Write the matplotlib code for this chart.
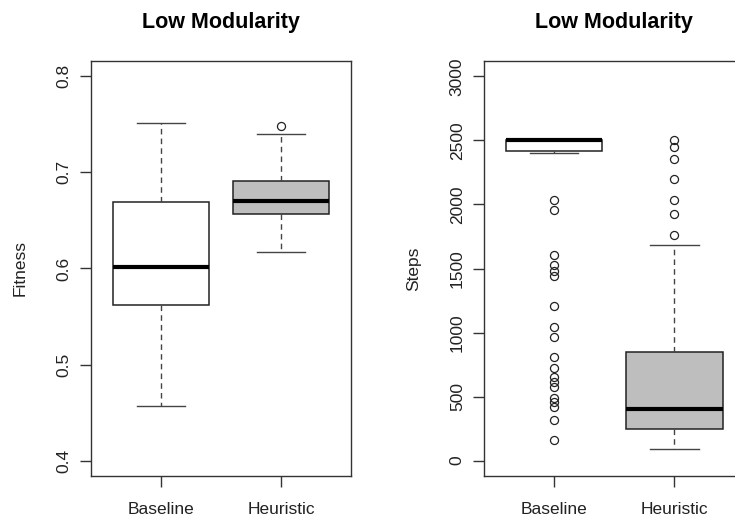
import matplotlib
matplotlib.use("Agg")
from matplotlib import pyplot as plt

plt.rcParams['font.family'] = ['Liberation Sans', 'DejaVu Sans']

groups = ["Baseline", "Heuristic"]
fills = ["white", "#BEBEBE"]

# fitness summary (whislo, q1, med, q3, whishi)
fit_baseline = [0.457, 0.5625, 0.6015, 0.669, 0.7515]
fit_heuristic = [0.6175, 0.6565, 0.6705, 0.6915, 0.7405]
fit_baseline_out = []
fit_heuristic_out = [0.748]

# steps summary (whislo, q1, med, q3, whishi)
steps_baseline = [2400, 2420, 2500, 2500, 2500]
steps_heuristic = [88, 247, 400, 845, 1684]
steps_baseline_out = [2037, 1959, 1603, 1525, 1478, 1439, 1207, 1041, 963, 807,
                      723, 650, 615, 575, 490, 455, 420, 320, 164]
steps_heuristic_out = [1759, 1923, 2037, 2201, 2357, 2449, 2500]

fit_ticks = [0.4, 0.5, 0.6, 0.7, 0.8]
steps_ticks = [0, 500, 1000, 1500, 2000, 2500, 3000]


def make_stats(summary, fliers, label):
    lo, q1, med, q3, hi = summary
    return dict(whislo=lo, q1=q1, med=med, q3=q3, whishi=hi, fliers=fliers, label=label)


def draw_panel(ax, stats, ylab, ticks, ylim):
    b = ax.bxp(stats, positions=[1, 2], widths=0.8, patch_artist=True,
               showfliers=True,
               boxprops=dict(edgecolor="#222222", linewidth=1.1),
               medianprops=dict(color="black", linewidth=3, solid_capstyle="butt"),
               whiskerprops=dict(color="#444444", linewidth=1, linestyle=(0, (4, 3))),
               capprops=dict(color="#444444", linewidth=1),
               flierprops=dict(marker="o", markersize=5.8, markerfacecolor="none",
                               markeredgecolor="#222222", markeredgewidth=0.9))
    for patch, c in zip(b["boxes"], fills):
        patch.set_facecolor(c)
    for cap in b["caps"]:
        x = cap.get_xdata()
        mid = (x[0] + x[1]) / 2
        cap.set_xdata([mid - 0.2, mid + 0.2])
    ax.set_xlim(0.42, 2.58)
    ax.set_ylim(*ylim)
    ax.set_yticks(ticks)
    ax.set_yticklabels([str(t) for t in ticks], rotation=90, va="center")
    ax.set_xticks([1, 2])
    ax.set_xticklabels(groups)
    ax.tick_params(axis="both", length=8, width=1, color="#333333", labelsize=12.5,
                   labelcolor="#222222")
    ax.tick_params(axis="y", pad=6)
    ax.tick_params(axis="x", pad=11)
    for s in ax.spines.values():
        s.set_color("#333333")
        s.set_linewidth(1)
    ax.set_ylabel(ylab, fontsize=12.5, color="#222222", labelpad=21)
    ax.set_title("Low Modularity", fontsize=15.5, fontweight="bold", pad=24)


fig = plt.figure(figsize=(7.35, 5.31), dpi=100)
ax1 = fig.add_axes([91 / 735, 55 / 531, 260 / 735, 415 / 531])
ax2 = fig.add_axes([484.3 / 735, 55 / 531, 260 / 735, 415 / 531])

draw_panel(ax1, [make_stats(fit_baseline, fit_baseline_out, groups[0]),
                 make_stats(fit_heuristic, fit_heuristic_out, groups[1])],
           "Fitness", fit_ticks, (0.384, 0.816))
draw_panel(ax2, [make_stats(steps_baseline, steps_baseline_out, groups[0]),
                 make_stats(steps_heuristic, steps_heuristic_out, groups[1])],
           "Steps", steps_ticks, (-120, 3120))

fig.savefig("out.png", dpi=100)
